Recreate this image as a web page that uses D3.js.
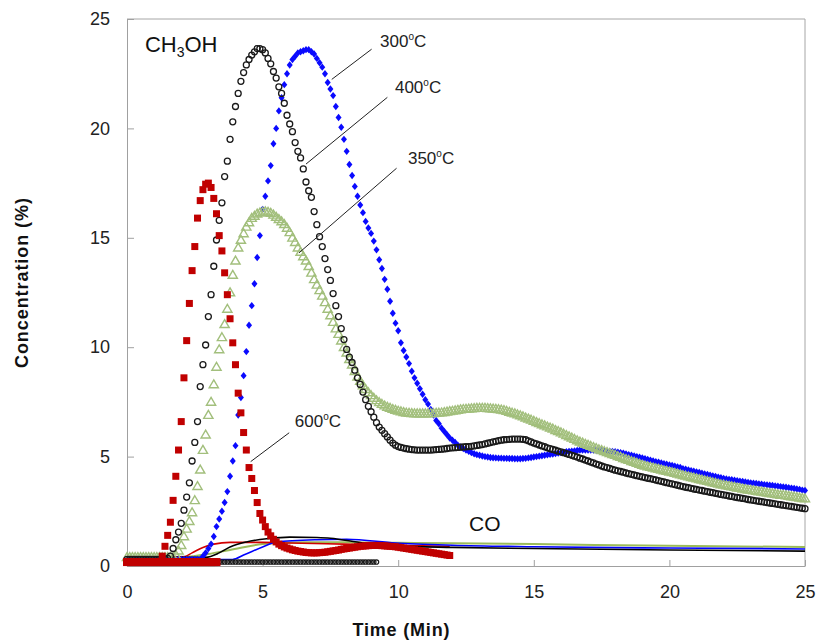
<!DOCTYPE html>
<html>
<head>
<meta charset="utf-8">
<script src="https://cdn.jsdelivr.net/npm/d3@7"></script>
<style>
body { margin: 0; background: #fff; }
svg { font-family: "Liberation Sans", Arial, sans-serif; }
</style>
</head>
<body>
<svg id="chart" width="817" height="640"></svg>
<script>
// sampling of the CH3OH traces (min)
const step = 0.1;

// 300 oC, blue diamonds, t = 0 .. 25
const ch300 = [
  0.3,0.3,0.3,0.3,0.3,0.3,0.3,0.3,0.3,0.3,
  0.3,0.3,0.3,0.3,0.3,0.3,0.3,0.3,0.3,0.3,
  0.3,0.3,0.3,0.3,0.3,0.3,0.3,0.3,0.45,0.6,
  0.8,1.0,1.35,1.8,2.15,2.5,2.9,3.4,4.1,4.8,
  5.5,6.9,7.7,8.7,9.8,11.0,11.9,12.9,14.1,15.1,
  16.3,16.9,17.6,18.3,19.3,20.0,20.8,21.4,22.0,22.5,
  22.9,23.15,23.3,23.45,23.5,23.55,23.6,23.6,23.5,23.4,
  23.2,23.0,22.8,22.5,22.1,21.8,21.5,21.0,20.5,20.05,
  19.5,18.95,18.35,17.85,17.35,16.9,16.5,16.15,15.75,15.45,
  15.2,14.85,14.45,14.0,13.6,13.1,12.65,12.1,11.55,11.1,
  10.75,10.2,9.85,9.55,9.25,8.9,8.6,8.35,8.1,7.85,
  7.6,7.4,7.15,6.9,6.65,6.5,6.3,6.15,6.0,5.85,
  5.75,5.65,5.52,5.44,5.37,5.3,5.24,5.18,5.13,5.09,
  5.06,5.03,5.0,4.98,4.96,4.95,4.94,4.93,4.93,4.92,
  4.92,4.91,4.91,4.9,4.9,4.9,4.91,4.92,4.94,4.96,
  4.98,5.0,5.02,5.04,5.06,5.08,5.1,5.12,5.14,5.16,
  5.18,5.2,5.22,5.24,5.25,5.26,5.28,5.3,5.3,5.3,
  5.3,5.3,5.3,5.29,5.28,5.27,5.26,5.25,5.24,5.23,
  5.22,5.2,5.18,5.15,5.12,5.09,5.06,5.03,5.0,4.97,
  4.94,4.9,4.87,4.83,4.8,4.77,4.74,4.71,4.68,4.65,
  4.62,4.59,4.56,4.53,4.5,4.45,4.42,4.39,4.36,4.33,
  4.3,4.27,4.24,4.21,4.18,4.15,4.12,4.09,4.06,4.03,
  4.0,3.98,3.96,3.94,3.92,3.9,3.88,3.86,3.84,3.82,
  3.8,3.78,3.77,3.75,3.74,3.72,3.71,3.69,3.68,3.66,
  3.65,3.63,3.61,3.6,3.58,3.56,3.54,3.52,3.5,3.47,
  3.45
];

// 350 oC, green open triangles, t = 0 .. 25
const ch350 = [
  0.4,0.4,0.4,0.4,0.4,0.4,0.4,0.4,0.4,0.4,
  0.4,0.4,0.4,0.4,0.4,0.4,0.4,0.4,0.5,0.7,
  0.95,1.35,1.7,2.05,2.45,3.0,3.65,4.4,5.3,6.0,
  6.9,7.5,8.3,9.1,9.9,10.45,11.05,11.75,12.5,13.3,
  13.95,14.55,14.9,15.2,15.5,15.7,15.9,16.0,16.1,16.15,
  16.18,16.2,16.18,16.13,16.05,15.95,15.85,15.75,15.62,15.45,
  15.25,15.0,14.8,14.55,14.35,14.15,13.95,13.7,13.4,13.1,
  12.85,12.6,12.35,12.05,11.75,11.45,11.15,10.85,10.6,10.3,
  10.0,9.75,9.45,9.2,8.9,8.65,8.45,8.25,8.08,7.93,
  7.8,7.68,7.57,7.48,7.4,7.33,7.27,7.22,7.17,7.13,
  7.09,7.06,7.03,7.0,6.99,6.98,6.97,6.97,6.97,6.97,
  6.97,6.97,6.98,6.98,6.99,7.0,7.01,7.03,7.05,7.07,
  7.09,7.11,7.13,7.15,7.17,7.18,7.19,7.2,7.21,7.22,
  7.22,7.22,7.22,7.21,7.2,7.19,7.18,7.16,7.14,7.12,
  7.08,7.04,7.0,6.97,6.92,6.88,6.83,6.78,6.73,6.68,
  6.63,6.57,6.52,6.47,6.42,6.37,6.32,6.27,6.21,6.16,
  6.1,6.04,5.98,5.92,5.86,5.8,5.74,5.68,5.63,5.58,
  5.53,5.48,5.43,5.38,5.33,5.29,5.24,5.2,5.15,5.11,
  5.07,5.02,4.98,4.93,4.88,4.84,4.79,4.75,4.71,4.66,
  4.62,4.58,4.55,4.52,4.49,4.46,4.43,4.4,4.37,4.34,
  4.31,4.28,4.25,4.22,4.18,4.15,4.12,4.09,4.06,4.03,
  4.0,3.97,3.94,3.91,3.88,3.85,3.82,3.79,3.76,3.73,
  3.71,3.68,3.66,3.63,3.61,3.58,3.56,3.53,3.51,3.49,
  3.47,3.45,3.43,3.41,3.39,3.37,3.35,3.33,3.31,3.29,
  3.27,3.25,3.24,3.22,3.2,3.18,3.16,3.14,3.12,3.1,
  3.08
];

// 400 oC, black open circles, t = 0 .. 25
const ch400 = [
  0.3,0.3,0.3,0.3,0.3,0.3,0.3,0.3,0.3,0.3,
  0.3,0.3,0.3,0.3,0.3,0.35,0.45,0.8,1.2,1.55,
  1.95,2.55,3.15,3.8,4.8,5.65,6.6,8.2,9.2,10.1,
  11.4,12.4,13.7,14.9,15.8,16.6,17.8,18.5,19.5,20.3,
  21.0,21.6,22.15,22.55,22.9,23.15,23.35,23.5,23.65,23.65,
  23.6,23.45,23.2,22.95,22.6,22.3,21.9,21.6,21.15,20.6,
  20.2,19.85,19.35,18.95,18.65,18.15,17.55,17.15,16.85,16.2,
  15.6,15.05,14.6,14.05,13.55,13.05,12.45,11.9,11.4,10.85,
  10.35,9.9,9.55,9.3,8.95,8.6,8.3,7.95,7.6,7.3,
  7.05,6.8,6.55,6.35,6.2,6.05,5.9,5.75,5.62,5.52,
  5.46,5.42,5.39,5.36,5.34,5.32,5.31,5.3,5.3,5.3,
  5.3,5.3,5.3,5.31,5.32,5.33,5.34,5.35,5.37,5.39,
  5.4,5.41,5.42,5.43,5.44,5.45,5.46,5.47,5.49,5.51,
  5.53,5.55,5.58,5.61,5.64,5.67,5.7,5.73,5.75,5.77,
  5.78,5.79,5.8,5.8,5.8,5.8,5.79,5.77,5.72,5.67,
  5.62,5.58,5.53,5.49,5.45,5.4,5.36,5.33,5.29,5.25,
  5.22,5.18,5.14,5.1,5.06,5.02,4.98,4.93,4.89,4.84,
  4.8,4.75,4.71,4.66,4.62,4.57,4.53,4.5,4.46,4.42,
  4.38,4.35,4.32,4.29,4.25,4.22,4.19,4.16,4.13,4.1,
  4.07,4.04,4.01,3.99,3.96,3.93,3.9,3.87,3.84,3.81,
  3.78,3.75,3.72,3.69,3.66,3.63,3.6,3.58,3.55,3.52,
  3.5,3.47,3.45,3.42,3.4,3.37,3.35,3.32,3.3,3.27,
  3.25,3.23,3.2,3.18,3.15,3.13,3.11,3.09,3.07,3.04,
  3.02,3.0,2.98,2.96,2.94,2.92,2.9,2.88,2.86,2.84,
  2.82,2.8,2.78,2.76,2.74,2.72,2.7,2.68,2.66,2.64,
  2.62
];

// 600 oC, red squares, t = 0 .. 11.9
const ch600 = [
  0.2,0.2,0.2,0.2,0.2,0.2,0.2,0.2,0.2,0.2,
  0.2,0.2,0.2,0.45,0.9,1.4,2.0,3.0,4.1,5.3,
  6.6,8.6,10.3,12.0,13.5,14.6,15.9,16.7,17.2,17.45,
  17.5,17.3,16.8,16.1,15.1,14.4,13.4,12.4,11.3,10.2,
  9.2,7.9,7.0,6.1,5.3,4.5,4.0,3.45,2.9,2.4,
  2.1,1.8,1.55,1.38,1.22,1.1,1.0,0.93,0.87,0.82,
  0.78,0.74,0.71,0.68,0.66,0.64,0.62,0.61,0.6,0.6,
  0.6,0.61,0.62,0.63,0.65,0.67,0.69,0.71,0.73,0.76,
  0.78,0.8,0.82,0.84,0.86,0.88,0.9,0.91,0.92,0.93,
  0.94,0.94,0.94,0.94,0.93,0.92,0.91,0.9,0.89,0.88,
  0.86,0.84,0.82,0.8,0.78,0.76,0.74,0.72,0.7,0.68,
  0.66,0.64,0.62,0.6,0.58,0.56,0.54,0.52,0.5,0.48
];

// markers lying on the baseline: red squares t = 0 .. 3.3, black circles t = 3.4 .. 9.2
const base600 = [
  0.18,0.18,0.18,0.18,0.18,0.18,0.18,0.18,0.18,0.18,
  0.18,0.18,0.18,0.18,0.18,0.18,0.18,0.18,0.18,0.18,
  0.18,0.18,0.18,0.18,0.18,0.18,0.18,0.18,0.18,0.18,
  0.18,0.18,0.18,0.18
];
const base400 = [
  0.18,0.18,0.18,0.18,0.18,0.18,0.18,0.18,0.18,0.18,
  0.18,0.18,0.18,0.18,0.18,0.18,0.18,0.18,0.18,0.18,
  0.18,0.18,0.18,0.18,0.18,0.18,0.18,0.18,0.18,0.18,
  0.18,0.18,0.18,0.18,0.18,0.18,0.18,0.18,0.18,0.18,
  0.18,0.18,0.18,0.18,0.18,0.18,0.18,0.18,0.18,0.18,
  0.18,0.18,0.18,0.18,0.18,0.18,0.18,0.18,0.18
];

// CO traces (thin lines)
const coRedT   = [0, 2.1, 2.4, 2.8, 3.2, 3.8, 5.0, 6.0, 8.0, 10.0, 11.9];
const coRedV   = [0.4, 0.42, 0.6, 0.85, 1.0, 1.08, 1.08, 1.05, 1.0, 0.95, 0.9];
const coBlackT = [0, 2.9, 3.4, 3.8, 4.4, 5.2, 6.0, 7.0, 7.5, 8.7, 9.9, 12, 15, 20, 25];
const coBlackV = [0.4, 0.4, 0.6, 0.87, 1.1, 1.25, 1.32, 1.3, 1.27, 1.05, 0.92, 0.85, 0.8, 0.73, 0.68];
const coBlueT  = [0, 3.9, 4.3, 5.0, 5.5, 7.0, 8.1, 9.9, 12, 15, 20, 25];
const coBlueV  = [0.3, 0.3, 0.5, 0.87, 1.1, 1.2, 1.22, 1.05, 0.95, 0.88, 0.82, 0.78];
const coGreenT = [0, 2.2, 3.0, 3.8, 5.0, 6.5, 8, 10, 12, 15, 20, 25];
const coGreenV = [0.4, 0.42, 0.55, 0.73, 1.0, 1.08, 1.08, 1.06, 1.04, 1.0, 0.92, 0.87];

const ticks = [0, 5, 10, 15, 20, 25];

const svg = d3.select("#chart");

const x = d3.scaleLinear().domain([0, 25]).range([127, 805]);
const y = d3.scaleLinear().domain([0, 25]).range([566, 19]);

function pts(vals, t0) {
    return vals.map((v, i) => ({t: t0 + i * step, v: v}));
}
function pairs(ts, vs) {
    return ts.map((t, i) => ({t: t, v: vs[i]}));
}

// frame
svg.append("line").attr("x1", x(0)).attr("x2", x(25)).attr("y1", y(25)).attr("y2", y(25))
    .attr("stroke", "#a6a6a6").attr("stroke-width", 1);
svg.append("line").attr("x1", x(25)).attr("x2", x(25)).attr("y1", y(25)).attr("y2", y(0))
    .attr("stroke", "#a6a6a6").attr("stroke-width", 1);

const xAxis = svg.append("g")
    .attr("transform", `translate(0,${y(0)})`)
    .call(d3.axisBottom(x).tickValues(ticks).tickFormat(d3.format("d"))
        .tickSizeInner(-6).tickSizeOuter(0).tickPadding(19));
const yAxis = svg.append("g")
    .attr("transform", `translate(${x(0)},0)`)
    .call(d3.axisLeft(y).tickValues(ticks).tickFormat(d3.format("d"))
        .tickSizeInner(-7).tickSizeOuter(0).tickPadding(17));

[xAxis, yAxis].forEach(a => {
    a.select(".domain").attr("stroke", "#a0a0a0");
    a.selectAll(".tick line").attr("stroke", "#a0a0a0");
    a.selectAll(".tick text").attr("font-size", 18).attr("fill", "#222")
        .attr("font-family", "Liberation Sans, Arial, sans-serif");
});

// CO lines
const line = d3.line().x(d => x(d.t)).y(d => y(d.v)).curve(d3.curveMonotoneX);
const coLines = [
    {d: pairs(coGreenT, coGreenV), c: "#9bbb59", w: 2},
    {d: pairs(coRedT, coRedV), c: "#d00000", w: 1.6},
    {d: pairs(coBlueT, coBlueV), c: "#0000ff", w: 1.6},
    {d: pairs(coBlackT, coBlackV), c: "#000", w: 1.6}
];
coLines.forEach(s => {
    svg.append("path").datum(s.d).attr("d", line)
        .attr("fill", "none").attr("stroke", s.c).attr("stroke-width", s.w);
});

const pos = d => `translate(${x(d.t)},${y(d.v)})`;

// 300 oC blue diamonds
svg.append("g").selectAll("path").data(pts(ch300, 0)).join("path")
    .attr("transform", pos)
    .attr("d", "M0,-3.7L3,0L0,3.7L-3,0Z")
    .attr("fill", "#0a0aff");

// 350 oC green open triangles
svg.append("g").selectAll("path").data(pts(ch350, 0)).join("path")
    .attr("transform", pos)
    .attr("d", "M0,-4.6L4.6,3.3L-4.6,3.3Z")
    .attr("fill", "none").attr("stroke", "#a2bf7c").attr("stroke-width", 1.4);

// 400 oC black open circles
svg.append("g").selectAll("circle").data(pts(ch400, 0)).join("circle")
    .attr("cx", d => x(d.t)).attr("cy", d => y(d.v)).attr("r", 3)
    .attr("fill", "none").attr("stroke", "#1a1a1a").attr("stroke-width", 1.3);

// 600 oC red squares
svg.append("g").selectAll("rect").data(pts(ch600, 0)).join("rect")
    .attr("x", d => x(d.t) - 3.5).attr("y", d => y(d.v) - 3.5)
    .attr("width", 7).attr("height", 7)
    .attr("fill", "#c00000");

// baseline markers
svg.append("g").selectAll("circle").data(pts(base400, 3.4)).join("circle")
    .attr("cx", d => x(d.t)).attr("cy", d => y(d.v)).attr("r", 2.2)
    .attr("fill", "none").attr("stroke", "#1a1a1a").attr("stroke-width", 1.2);
svg.append("g").selectAll("rect").data(pts(base600, 0)).join("rect")
    .attr("x", d => x(d.t) - 4).attr("y", d => y(d.v) - 4)
    .attr("width", 8).attr("height", 8)
    .attr("fill", "#c00000");

// temperature labels with leader lines (data units)
const notes = [
    {label: "300", lx: 9.33, ly: 23.72, x1: 9.02, y1: 23.62, x2: 7.55, y2: 22.24},
    {label: "400", lx: 9.88, ly: 21.62, x1: 9.6, y1: 21.42, x2: 6.6, y2: 18.37},
    {label: "350", lx: 10.36, ly: 18.37, x1: 9.94, y1: 18.18, x2: 6.34, y2: 14.31},
    {label: "600", lx: 6.19, ly: 6.35, x1: 5.98, y1: 6.09, x2: 4.56, y2: 4.77}
];
notes.forEach(n => {
    svg.append("line")
        .attr("x1", x(n.x1)).attr("y1", y(n.y1)).attr("x2", x(n.x2)).attr("y2", y(n.y2))
        .attr("stroke", "#222").attr("stroke-width", 1);
    const t = svg.append("text").attr("x", x(n.lx)).attr("y", y(n.ly))
        .attr("font-size", 17).attr("fill", "#222");
    t.append("tspan").text(n.label);
    t.append("tspan").attr("font-size", 10).attr("dy", -7).text("o");
    t.append("tspan").attr("dy", 7).text("C");
});

// species labels
const ch = svg.append("text").attr("x", x(0.66)).attr("y", y(23.49))
    .attr("font-size", 22).attr("fill", "#111");
ch.append("tspan").text("CH");
ch.append("tspan").attr("font-size", 14).attr("dy", 5).text("3");
ch.append("tspan").attr("dy", -5).text("OH");

svg.append("text").attr("x", x(12.61)).attr("y", y(1.6))
    .attr("font-size", 21).attr("fill", "#111").text("CO");

// axis titles
svg.append("text").attr("x", 401).attr("y", 636)
    .attr("text-anchor", "middle").attr("font-size", 18).attr("font-weight", "bold")
    .attr("fill", "#111").attr("textLength", 97).attr("lengthAdjust", "spacing")
    .text("Time (Min)");
svg.append("text").attr("transform", "translate(28,283) rotate(-90)")
    .attr("text-anchor", "middle").attr("font-size", 18).attr("font-weight", "bold")
    .attr("fill", "#111").attr("textLength", 170).attr("lengthAdjust", "spacing")
    .text("Concentration (%)");
</script>
</body>
</html>
